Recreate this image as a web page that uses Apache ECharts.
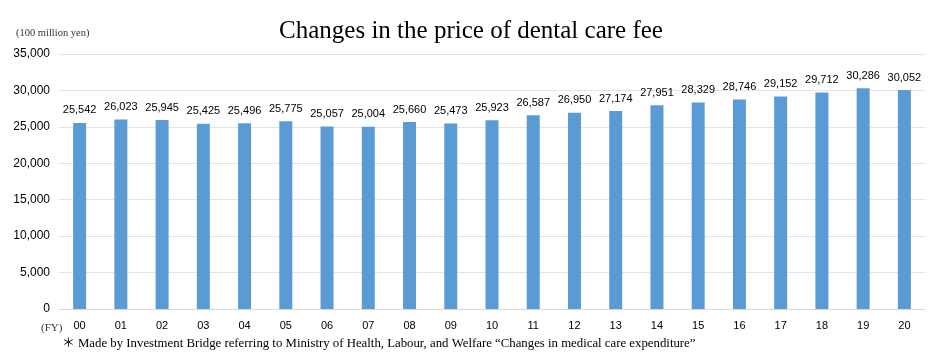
<!DOCTYPE html>
<html>
<head>
<meta charset="utf-8">
<script src="https://cdn.jsdelivr.net/npm/echarts@6/dist/echarts.min.js"></script>
<style>
  html, body { margin: 0; padding: 0; background: #fff; }
  #chart { width: 942px; height: 352px; }
</style>
</head>
<body>
<div id="chart"></div>
<script>
const years = ["00", "01", "02", "03", "04", "05", "06", "07", "08", "09", "10",
  "11", "12", "13", "14", "15", "16", "17", "18", "19", "20"];
const dentalFee = [25542, 26023, 25945, 25425, 25496, 25775, 25057, 25004, 25660, 25473, 25923,
  26587, 26950, 27174, 27951, 28329, 28746, 29152, 29712, 30286, 30052];
const yTicks = [0, 5000, 10000, 15000, 20000, 25000, 30000, 35000];

const chart = echarts.init(document.getElementById("chart"));

chart.setOption({
  animation: false,
  title: [
    {
      text: "Changes in the price of dental care fee",
      left: "center",
      top: 14,
      textStyle: { fontFamily: "Liberation Serif", fontSize: 25, fontWeight: "normal", color: "#000" },
    },
    {
      text: "(100 million yen)",
      left: 11,
      top: 23,
      textStyle: { fontFamily: "Liberation Serif", fontSize: 10.5, fontWeight: "normal", color: "#333" },
    },
    {
      text: "(FY)",
      left: 36,
      top: 318,
      textStyle: { fontFamily: "Liberation Serif", fontSize: 11, fontWeight: "normal", color: "#333" },
    },
    {
      text: "\uff0a Made by Investment Bridge referring to Ministry of Health, Labour, and Welfare \u201cChanges in medical care expenditure\u201d",
      left: 57,
      top: 332,
      textStyle: { fontFamily: "Liberation Serif, Noto Sans CJK JP", fontSize: 12.8, fontWeight: "normal", color: "#000" },
    },
  ],
  grid: { left: 59, right: 17, top: 54, bottom: 43 },
  xAxis: {
    type: "category",
    data: years,
    axisTick: { show: false },
    axisLine: { lineStyle: { color: "#d9d9d9" } },
    axisLabel: { color: "#000", fontFamily: "Liberation Sans", fontSize: 11, margin: 11 },
  },
  yAxis: {
    type: "value",
    min: yTicks[0],
    max: yTicks[yTicks.length - 1],
    interval: 5000,
    axisLine: { show: false },
    axisTick: { show: false },
    splitLine: { lineStyle: { color: "#e3e3e3" } },
    axisLabel: {
      color: "#000",
      fontFamily: "Liberation Sans",
      fontSize: 12,
      margin: 9,
      formatter: (v) => v.toLocaleString("en-US"),
    },
  },
  series: [
    {
      type: "bar",
      data: dentalFee,
      barWidth: 13,
      itemStyle: { color: "#5b9bd5" },
      label: {
        show: true,
        position: "top",
        distance: 7,
        color: "#000",
        fontFamily: "Liberation Sans",
        fontSize: 11,
        formatter: (p) => p.value.toLocaleString("en-US"),
      },
    },
  ],
});
</script>
</body>
</html>
